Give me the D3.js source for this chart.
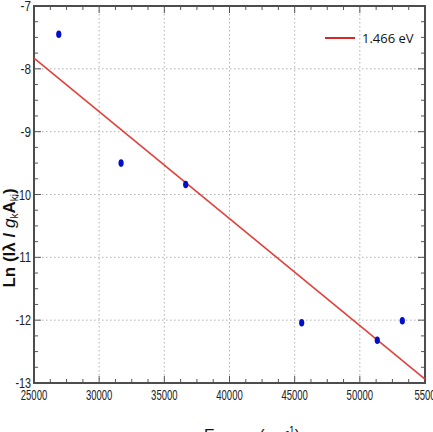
<!DOCTYPE html>
<html>
<head>
<meta charset="utf-8">
<script src="https://cdn.jsdelivr.net/npm/d3@7"></script>
<style>
  body { margin: 0; background: #fff; }
  svg { display: block; }
  .tick-label { font-family: "Liberation Sans Narrow", "Liberation Sans", sans-serif; font-size: 14px; fill: #222; }
</style>
</head>
<body>
<div id="chart"></div>
<script>
// data
var energy = [26900, 31680, 36640, 45540, 51340, 53260];
var lnInt  = [-7.45, -9.50, -9.84, -12.04, -12.32, -12.01];

// fitted line end points
var fitX = [25000, 55000];
var fitY = [-7.83, -12.94];

var xTicks = [25000, 30000, 35000, 40000, 45000, 50000, 55000];
var xTickLabels = ["25000", "30000", "35000", "40000", "45000", "50000", "5500"];
var yTicks = [-7, -8, -9, -10, -11, -12, -13];
var legendLabel = "1.466 eV";

var width = 433, height = 432;
var plot = {left: 34, top: 6, right: 425, bottom: 383};

var svg = d3.select("#chart").append("svg")
  .attr("width", width)
  .attr("height", height);

var x = d3.scaleLinear().domain([25000, 55000]).range([plot.left, plot.right]);
var y = d3.scaleLinear().domain([-13, -7]).range([plot.bottom, plot.top]);

// grid (dotted)
var grid = svg.append("g");
grid.selectAll(".vg").data(xTicks.slice(1, -1)).enter().append("line")
  .attr("x1", d => x(d)).attr("x2", d => x(d))
  .attr("y1", plot.top).attr("y2", plot.bottom)
  .attr("stroke", "#b0b0b0").attr("stroke-width", 1).attr("stroke-dasharray", "1.5,2.5");
grid.selectAll(".hg").data(yTicks.slice(1, -1)).enter().append("line")
  .attr("y1", d => y(d)).attr("y2", d => y(d))
  .attr("x1", plot.left).attr("x2", plot.right)
  .attr("stroke", "#b0b0b0").attr("stroke-width", 1).attr("stroke-dasharray", "1.5,2.5");

// minor + major ticks, inward, on all four sides
var xMinor = d3.range(25000, 55001, 1250);
var yMinor = d3.range(-13, -6.99, 0.25);
var ticks = svg.append("g").attr("stroke", "#555").attr("stroke-width", 1);
xMinor.forEach(function(v) {
  var len = (v % 5000 === 0) ? 7 : 4;
  ticks.append("line").attr("x1", x(v)).attr("x2", x(v)).attr("y1", plot.bottom).attr("y2", plot.bottom - len);
  ticks.append("line").attr("x1", x(v)).attr("x2", x(v)).attr("y1", plot.top).attr("y2", plot.top + len);
});
yMinor.forEach(function(v) {
  var len = (Math.abs(v - Math.round(v)) < 1e-6) ? 7 : 4;
  ticks.append("line").attr("y1", y(v)).attr("y2", y(v)).attr("x1", plot.left).attr("x2", plot.left + len);
  ticks.append("line").attr("y1", y(v)).attr("y2", y(v)).attr("x1", plot.right).attr("x2", plot.right - len);
});

// frame
svg.append("rect")
  .attr("x", plot.left).attr("y", plot.top)
  .attr("width", plot.right - plot.left).attr("height", plot.bottom - plot.top)
  .attr("fill", "none").attr("stroke", "#4d4d4d").attr("stroke-width", 2);

// tick labels
svg.selectAll(".xl").data(xTicks).enter().append("text")
  .attr("class", "tick-label")
  .attr("x", d => x(d))
  .attr("y", plot.bottom + 17)
  .attr("text-anchor", "middle")
  .attr("textLength", (d, i) => xTickLabels[i].length * 5.3)
  .attr("lengthAdjust", "spacingAndGlyphs")
  .text((d, i) => xTickLabels[i]);

svg.selectAll(".yl").data(yTicks).enter().append("text")
  .attr("class", "tick-label")
  .attr("x", plot.left - 3)
  .attr("y", d => y(d) + 5)
  .attr("text-anchor", "end")
  .attr("textLength", d => String(d).length * 5.2)
  .attr("lengthAdjust", "spacingAndGlyphs")
  .text(d => String(d));

// fitted line
var line = d3.line().x(d => x(d[0])).y(d => y(d[1]));
svg.append("path")
  .datum(fitX.map((v, i) => [v, fitY[i]]))
  .attr("d", line)
  .attr("fill", "none")
  .attr("stroke", "#e3403a")
  .attr("stroke-width", 1.6);

// points
svg.selectAll(".pt").data(energy).enter().append("ellipse")
  .attr("cx", d => x(d))
  .attr("cy", (d, i) => y(lnInt[i]))
  .attr("rx", 2.6).attr("ry", 3.8)
  .attr("fill", "#0010c8");

// legend
svg.append("line")
  .attr("x1", 325).attr("x2", 355).attr("y1", 38).attr("y2", 38)
  .attr("stroke", "#d42a2a").attr("stroke-width", 2);
svg.append("text")
  .attr("x", 362).attr("y", 43)
  .attr("font-family", "Open Sans, sans-serif")
  .attr("font-size", 13)
  .attr("fill", "#111")
  .text(legendLabel);

// axis titles
var yt = svg.append("text")
  .attr("transform", "translate(14.5,238) rotate(-90)")
  .attr("text-anchor", "middle")
  .attr("font-family", "Liberation Sans, Arial, sans-serif")
  .attr("font-size", 17)
  .attr("font-weight", "bold")
  .attr("fill", "#111");
yt.append("tspan").text("Ln (Iλ / ");
yt.append("tspan").attr("font-style", "italic").attr("font-weight", "normal").text("g");
yt.append("tspan").attr("font-size", 10).attr("font-weight", "normal").attr("dy", 3).text("k");
yt.append("tspan").attr("dy", -3).text("A");
yt.append("tspan").attr("font-size", 10).attr("font-weight", "normal").attr("dy", 3).text("ki");
yt.append("tspan").attr("dy", -3).text(")");

var xt = svg.append("text")
  .attr("x", 252).attr("y", 441)
  .attr("text-anchor", "middle")
  .attr("font-family", "Liberation Sans, Arial, sans-serif")
  .attr("font-size", 16)
  .attr("fill", "#111");
xt.append("tspan").text("Energy (cm");
xt.append("tspan").attr("font-size", 10).attr("dy", -7).text("-1");
xt.append("tspan").attr("dy", 7).text(")");
</script>
</body>
</html>
